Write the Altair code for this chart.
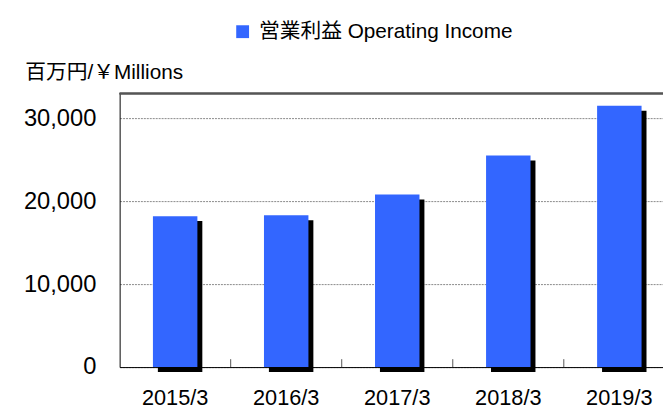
import altair as alt
import pandas as pd

years = ["2015/3", "2016/3", "2017/3", "2018/3", "2019/3"]
income = [18200, 18300, 20800, 25500, 31500]
series_name = "営業利益 Operating Income"
y_ticks = [0, 10000, 20000, 30000]

df = pd.DataFrame({"year": years, "income": income, "series": [series_name] * len(years)})

REG = "'Liberation Sans', Arial, 'Noto Sans CJK JP', sans-serif"

x_enc = alt.X(
    "year:N",
    sort=years,
    scale=alt.Scale(range=[0, 562], paddingInner=0, paddingOuter=0),
    axis=alt.Axis(
        title=None, labelAngle=0, ticks=False, tickSize=0, grid=False,
        labelFont=REG, labelFontSize=22, labelColor="black", labelPadding=21,
        domainColor="black", domainWidth=1,
    ),
)
y_enc = alt.Y(
    "income:Q",
    scale=alt.Scale(domain=[0, 33000], nice=False),
    axis=alt.Axis(
        values=y_ticks, format=",.0f", ticks=False, tickSize=0,
        labelFont=REG, labelFontSize=24, labelColor="black", labelPadding=24,
        domainColor="black", domainWidth=1,
        grid=True, gridColor="#888888", gridDash=[2, 1], gridWidth=1,
        title="百万円/￥Millions", titleAngle=0, titleAlign="left", titleBaseline="alphabetic",
        titleX=-96, titleY=-15, titleFont=REG, titleFontSize=21, titleFontWeight="normal",
        titleColor="black",
    ),
)

base = alt.Chart(df)

shadow = base.mark_bar(size=45, color="black", xOffset=5, yOffset=5, y2Offset=3).encode(
    x=x_enc, y=y_enc
)

bars = base.mark_bar(size=45).encode(
    x=x_enc,
    y=y_enc,
    color=alt.Color(
        "series:N",
        scale=alt.Scale(domain=[series_name], range=["#3366ff"]),
        legend=alt.Legend(
            title=None, orient="none", legendX=114, legendY=-73,
            symbolType="square", symbolSize=169, symbolStrokeWidth=0,
            labelFont=REG, labelFontSize=21, labelColor="black", labelOffset=6,
            labelLimit=500, padding=0,
        ),
    ),
)

ticks = base.mark_rule(color="#555555").encode(
    x=alt.X("year:N", sort=years, bandPosition=1),
    y=alt.value(269),
    y2=alt.value(277),
)

top_line = base.mark_rule(color="#555555", strokeWidth=1.5).encode(
    x=alt.value(0), x2=alt.value(600), y=alt.value(0)
)

chart = (
    alt.layer(shadow, bars, ticks, top_line)
    .properties(
        width=550, height=277,
        padding={"left": 113, "top": 84, "right": 0, "bottom": 44},
        autosize=alt.AutoSizeParams(type="none"),
        background="white",
    )
    .configure_view(stroke=None)
)

chart.save("out.html", embed_options={"renderer": "svg", "actions": False})
